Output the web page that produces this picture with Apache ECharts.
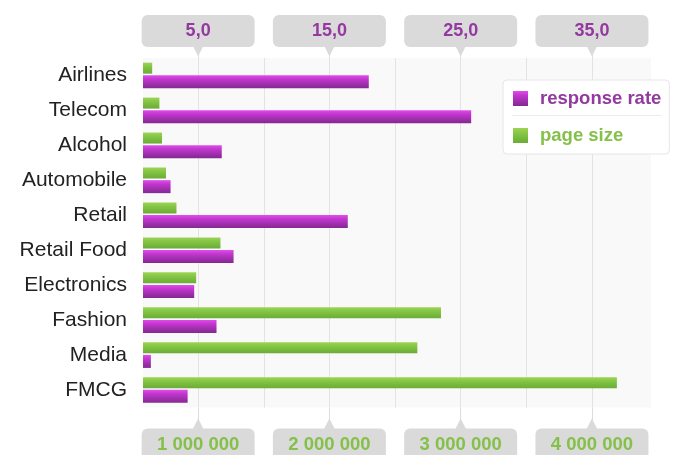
<!DOCTYPE html>
<html><head><meta charset="utf-8">
<script src="https://cdn.jsdelivr.net/npm/echarts@6/dist/echarts.min.js"></script>
<style>html,body{margin:0;padding:0;background:#fff}#c{width:678px;height:455px}</style>
</head><body><div id="c"></div>
<script>
const categories = ['Airlines','Telecom','Alcohol','Automobile','Retail','Retail Food','Electronics','Fashion','Media','FMCG'];
const responseRate = [18.0, 25.8, 6.8, 2.9, 16.4, 7.7, 4.7, 6.4, 1.4, 4.2];
const pageSize = [650000, 705000, 725000, 755000, 835000, 1170000, 985000, 2850000, 2670000, 4190000];
const rateTicks = [5, 15, 25, 35];
const pageTicks = [1000000, 2000000, 3000000, 4000000];
const rateGridLines = [5, 10, 15, 20, 25, 30, 35];

const FONT = 'Liberation Sans, Arial, sans-serif';
const PURPLE_TXT = '#93399f';
const GREEN_TXT = '#84c04a';
const BOX = '#dadada';

const fmtRate = v => v.toFixed(1).replace('.', ',');
const fmtPage = v => String(v).replace(/\B(?=(\d{3})+(?!\d))/g, ' ');

const purpleGrad = new echarts.graphic.LinearGradient(0, 0, 0, 1, [
  {offset: 0, color: '#e04ee8'}, {offset: 0.3, color: '#c236d0'}, {offset: 1, color: '#82298f'}
]);
const greenGrad = new echarts.graphic.LinearGradient(0, 0, 0, 1, [
  {offset: 0, color: '#9ed455'}, {offset: 0.4, color: '#82c443'}, {offset: 1, color: '#6aac37'}
]);

const chart = echarts.init(document.getElementById('c'));
chart.setOption({
  backgroundColor: '#fff',
  animation: false,
  grid: {left: 143, right: 27, top: 58, bottom: 47.5, containLabel: false, outerBoundsMode: 'none',
         show: true, backgroundColor: '#f9f9f9', borderWidth: 0},
  legend: {
    orient: 'vertical', left: 503, top: 80,
    backgroundColor: '#fff', borderColor: '#e6e6e6', borderWidth: 1, borderRadius: 4,
    padding: [9, 8, 9, 10], itemGap: 18, itemWidth: 15, itemHeight: 15, icon: 'rect',
    textStyle: {fontFamily: FONT, fontSize: 18.5, fontWeight: 'bold', padding: [0, 0, 0, 7]},
    data: [
      {name: 'response rate', textStyle: {color: PURPLE_TXT}},
      {name: 'page size', textStyle: {color: GREEN_TXT}}
    ]
  },
  graphic: [{
    type: 'line', z: 100, silent: true,
    shape: {x1: 512, y1: 115.5, x2: 662, y2: 115.5},
    style: {stroke: '#ececec', lineWidth: 1}
  }],
  xAxis: [
    {
      type: 'value', position: 'top', min: 0.8, max: 39.5,
      axisLine: {show: false},
      axisTick: {show: true, customValues: rateTicks, length: 5, lineStyle: {color: '#dcdcdc'}},
      splitLine: {show: false},
      axisLabel: {
        customValues: rateTicks, margin: 3,
        formatter: v => '{b|' + fmtRate(v) + '}\n{t|▼}',
        rich: {
          b: {backgroundColor: BOX, borderRadius: 6, width: 113, height: 32, lineHeight: 32, align: 'center',
              fontSize: 18, fontWeight: 'bold', color: PURPLE_TXT, fontFamily: FONT},
          t: {color: BOX, fontSize: 18, lineHeight: 8, align: 'center'}
        }
      }
    },
    {
      type: 'value', position: 'bottom', min: 580000, max: 4450000,
      axisLine: {show: false},
      axisTick: {show: true, customValues: pageTicks, length: 15, lineStyle: {color: '#dcdcdc'}},
      splitLine: {show: false},
      axisLabel: {
        customValues: pageTicks, margin: 13,
        formatter: v => '{t|▲}\n{b|' + fmtPage(v) + '}',
        rich: {
          b: {backgroundColor: BOX, borderRadius: 6, width: 113, height: 32, lineHeight: 32, align: 'center',
              fontSize: 18.5, fontWeight: 'bold', color: GREEN_TXT, fontFamily: FONT},
          t: {color: BOX, fontSize: 18, lineHeight: 8, align: 'center'}
        }
      }
    }
  ],
  yAxis: {
    type: 'category', data: categories, inverse: true,
    axisLine: {show: false}, axisTick: {show: false},
    axisLabel: {fontFamily: FONT, fontSize: 21, color: '#222', margin: 16}
  },
  series: [
    {
      name: 'page size', type: 'bar', xAxisIndex: 1, data: pageSize,
      barWidth: 11, barGap: '15%', itemStyle: {color: greenGrad}
    },
    {
      name: 'response rate', type: 'bar', xAxisIndex: 0, data: responseRate,
      barWidth: 13, barGap: '15%', itemStyle: {color: purpleGrad},
      markLine: {
        silent: true, symbol: 'none', z: 1, animation: false,
        label: {show: false},
        lineStyle: {color: '#e3e3e3', width: 1, type: 'solid'},
        data: rateGridLines.map(v => ({xAxis: v}))
      }
    }
  ]
});
</script>
</body></html>
